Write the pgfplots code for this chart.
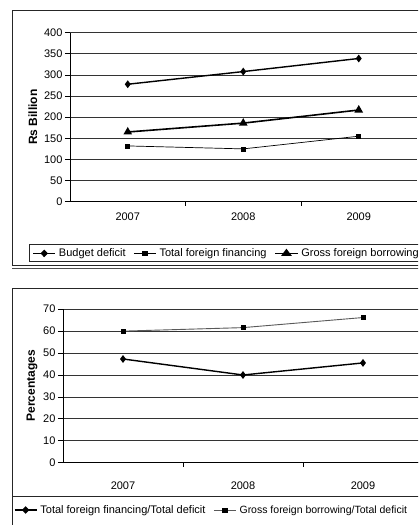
\documentclass[border=0pt]{standalone}
\usepackage{fontspec}
\setmainfont{Liberation Sans}
\usepackage{pgfplots}
\pgfplotsset{compat=1.18}

\pgfplotsset{
  scanchart/.style={
    scale only axis,
    xmin=-0.5, xmax=2.5,
    axis x line=bottom, axis y line=left,
    axis line style={-, black, line width=0.9pt},
    xtick={0,1,2},
    xticklabels={2007,2008,2009},
    major x tick style={draw=none},
    minor xtick={0.5,1.5},
    minor tick length=4pt,
    tick align=outside,
    major tick length=5pt,
    tick style={black, line width=0.8pt},
    ymajorgrids,
    major grid style={black!80, line width=0.8pt},
    /pgf/number format/assume math mode=true,
    tick label style={font=\fontsize{11}{13}\selectfont},
    yticklabel style={xshift=1pt},
    ylabel style={font=\fontsize{12}{14}\selectfont\bfseries, anchor=center},
    legend image post style={xscale=1.3},
    legend style={draw=none, fill=none, legend columns=-1,
      font=\fontsize{11}{13}\selectfont, inner sep=1pt,
      /tikz/every even column/.append style={column sep=6pt},
      /tikz/every odd column/.append style={column sep=1pt}},
  },
}

\begin{document}
\begin{tikzpicture}[x=1pt,y=1pt]
  \useasboundingbox (0,0) rectangle (418,525);
  \clip (0,0) rectangle (418,525);
  \fill[white] (0,0) rectangle (418,525);

  % frames
  \draw[black!85, line width=1pt] (12,514) rectangle (440,259);
  \draw[black!70, line width=0.6pt] (12,257) -- (440,257);
  \draw[black!85, line width=1pt] (29,280) rectangle (440,263);
  \draw[black!85, line width=1pt] (12,-10) rectangle (440,236);
  \draw[black!85, line width=1pt] (12,28) -- (440,28);

  % top chart: Rs Billion
  \begin{axis}[scanchart,
      at={(70pt,323.3pt)}, anchor=south west,
      width=346.5pt, height=169pt,
      ymin=0, ymax=400, ytick={0,50,...,400},
      xticklabel style={yshift=-3pt},
      ylabel={Rs Billion},
      ylabel style={at={(axis description cs:-0.107,0.5)}},
      legend style={at={(axis description cs:-0.112,-0.306)}, anchor=west},
    ]
    % Budget deficit
    \addplot[black, line width=1.4pt, mark=diamond*, mark size=2.8pt] coordinates {
      (0,278) (1,308) (2,339)
    };
    % Total foreign financing
    \addplot[black, line width=0.7pt, mark=square*, mark size=2pt] coordinates {
      (0,132) (1,125) (2,155)
    };
    % Gross foreign borrowing
    \addplot[black, line width=1.6pt, mark=triangle*, mark size=3.4pt] coordinates {
      (0,165) (1,186) (2,217)
    };
    \legend{Budget deficit, Total foreign financing, Gross foreign borrowing}
  \end{axis}

  % bottom chart: Percentages
  \begin{axis}[scanchart,
      at={(63pt,62.3pt)}, anchor=south west,
      width=360pt, height=153.5pt,
      ymin=0, ymax=70, ytick={0,10,...,70},
      xticklabel style={yshift=-11pt},
      ylabel={Percentages},
      ylabel style={at={(axis description cs:-0.086,0.5)}},
      legend style={at={(axis description cs:-0.14,-0.308)}, anchor=west},
    ]
    % Total foreign financing/Total deficit
    \addplot[black, line width=1.4pt, mark=diamond*, mark size=2.8pt] coordinates {
      (0,47.3) (1,40.0) (2,45.5)
    };
    % Gross foreign borrowing/Total deficit
    \addplot[black!65, line width=0.9pt, mark=square*, mark size=2pt,
      mark options={black}] coordinates {
      (0,60.0) (1,61.6) (2,66.2)
    };
    \legend{Total foreign financing/Total deficit,
      {\fontsize{10.5}{12}\selectfont Gross foreign borrowing/Total deficit}}
  \end{axis}
\end{tikzpicture}
\end{document}
